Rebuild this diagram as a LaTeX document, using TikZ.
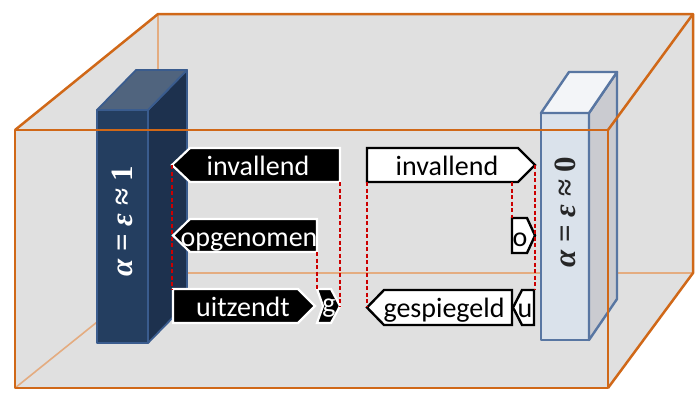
\documentclass[tikz,border=0pt]{standalone}
\usepackage{fontspec}
\setmainfont{Carlito}
\newfontfamily\slabserif{Liberation Serif}
\definecolor{boxor}{RGB}{208,104,24}
\definecolor{boxorlight}{RGB}{228,172,128}
\definecolor{bgfill}{RGB}{224,224,224}
\definecolor{dkfront}{RGB}{36,62,96}
\definecolor{dkside}{RGB}{29,49,78}
\definecolor{dktop}{RGB}{80,100,126}
\definecolor{dkedge}{RGB}{58,92,142}
\definecolor{ltfront}{RGB}{218,226,235}
\definecolor{ltside}{RGB}{202,203,208}
\definecolor{lttop}{RGB}{243,245,248}
\definecolor{ltedge}{RGB}{88,118,162}
\definecolor{dashred}{RGB}{204,0,0}
\newcommand\bigfnt{\fontsize{28}{31}\selectfont}
\newcommand\slabfnt{\slabserif\bfseries\fontsize{31}{34}\selectfont}
\tikzset{
  frontline/.style={draw=boxor, line width=2.5pt, line join=round},
  hiddenline/.style={draw=boxorlight, line width=1.6pt},
  darkslab/.style={draw=dkedge, line width=1.8pt, line join=round},
  lightslab/.style={draw=ltedge, line width=2.4pt, line join=round},
  blackarrow/.style={fill=black, draw=white, line width=2.2pt, line join=miter},
  whitearrow/.style={fill=white, draw=black, line width=2.4pt, line join=miter},
  lbl/.style={font=\bigfnt, inner sep=0pt, anchor=base},
  slabtxt/.style={font=\slabfnt, inner sep=0pt, rotate=90},
  guide/.style={draw=dashred, line width=1.2pt, dash pattern=on 4pt off 2.5pt},
}
% left-pointing pentagon: style, tipx, bodyx, rightx, top, bottom
\newcommand\ptleft[6]{\path[#1] (#2,{(#5+#6)/2}) -- (#3,#5) -- (#4,#5) -- (#4,#6) -- (#3,#6) -- cycle;}
% right-pointing pentagon: style, leftx, bodyx, tipx, top, bottom
\newcommand\ptright[6]{\path[#1] (#2,#5) -- (#3,#5) -- (#4,{(#5+#6)/2}) -- (#3,#6) -- (#2,#6) -- cycle;}
\begin{document}
\begin{tikzpicture}[x=1pt,y=-1pt]
\useasboundingbox (0,0) rectangle (700,400);
% box background
\fill[bgfill] (15,130) -- (158,14) -- (693,14) -- (693,273) -- (608,388) -- (15,388) -- cycle;
% hidden edges
\draw[hiddenline] (158,14) -- (158,273) -- (693,273);
\draw[hiddenline] (158,273) -- (15,388);
% left dark slab
\path[darkslab, fill=dkfront] (97,110) rectangle (148,343);
\path[darkslab, fill=dkside] (148,110) -- (187,70) -- (187,303) -- (148,343) -- cycle;
\path[darkslab, fill=dktop] (97,110) -- (136,70) -- (187,70) -- (148,110) -- cycle;
\node[slabtxt, text=white] (lefttext) at (122,221) {{\itshape α} = {\itshape ε} ≈ 1};
% right light slab
\path[lightslab, fill=ltfront] (541,113) rectangle (589,340);
\path[lightslab, fill=ltside] (589,113) -- (617,72) -- (617,299) -- (589,340) -- cycle;
\path[lightslab, fill=lttop] (541,113) -- (569,72) -- (617,72) -- (589,113) -- cycle;
\node[slabtxt, text=black!85] (righttext) at (565,212) {{\itshape α} = {\itshape ε} ≈ 0};
% front visible edges
\draw[frontline] (15,130) rectangle (608,388);
\draw[frontline] (15,130) -- (158,14) -- (693,14) -- (693,273) -- (608,388);
\draw[frontline] (608,130) -- (693,14);
% left arrows (black)
\ptleft{blackarrow}{172}{190}{340}{148}{182}
\ptleft{blackarrow}{173}{190}{317}{219}{252}
\ptright{blackarrow}{173}{298}{315}{289}{323}
\path[blackarrow] (317,289) -- (331,289) -- (340,306) -- (331,323) -- (317,323) -- (323,306) -- cycle;
\node[lbl, text=white] (linv) at (258,175) {invallend};
\node[lbl, text=white] (lopg) at (249,246) {opgenomen};
\node[lbl, text=white] (luit) at (243,316) {uitzendt};
\node[lbl, text=white] (lg) at (329,312) {g};
% right arrows (white)
\ptright{whitearrow}{367}{518}{535}{148}{182}
\ptright{whitearrow}{512}{527}{535}{218}{253}
\ptleft{whitearrow}{367}{384}{512}{290}{325}
\ptleft{whitearrow}{513}{522}{534}{290}{325}
\node[lbl] (rinv) at (447,175) {invallend};
\node[lbl] (ro) at (520,246) {o};
\node[lbl] (rges) at (444,317) {gespiegeld};
\node[lbl] (ru) at (525,317) {u};
% guide coordinates
\coordinate (a1) at (172,165); \coordinate (a2) at (172,290);
\coordinate (b1) at (317,252); \coordinate (b2) at (317,290);
\coordinate (c1) at (340,182); \coordinate (c2) at (340,306);
\coordinate (d1) at (367,182); \coordinate (d2) at (367,307);
\coordinate (e1) at (512,182); \coordinate (e2) at (512,218);
\coordinate (f1) at (535,165); \coordinate (f2) at (535,290);
\draw[guide] (a1) -- (a2);
\draw[guide] (b1) -- (b2);
\draw[guide] (c1) -- (c2);
\draw[guide] (d1) -- (d2);
\draw[guide] (e1) -- (e2);
\draw[guide] (f1) -- (f2);
\end{tikzpicture}
\end{document}
